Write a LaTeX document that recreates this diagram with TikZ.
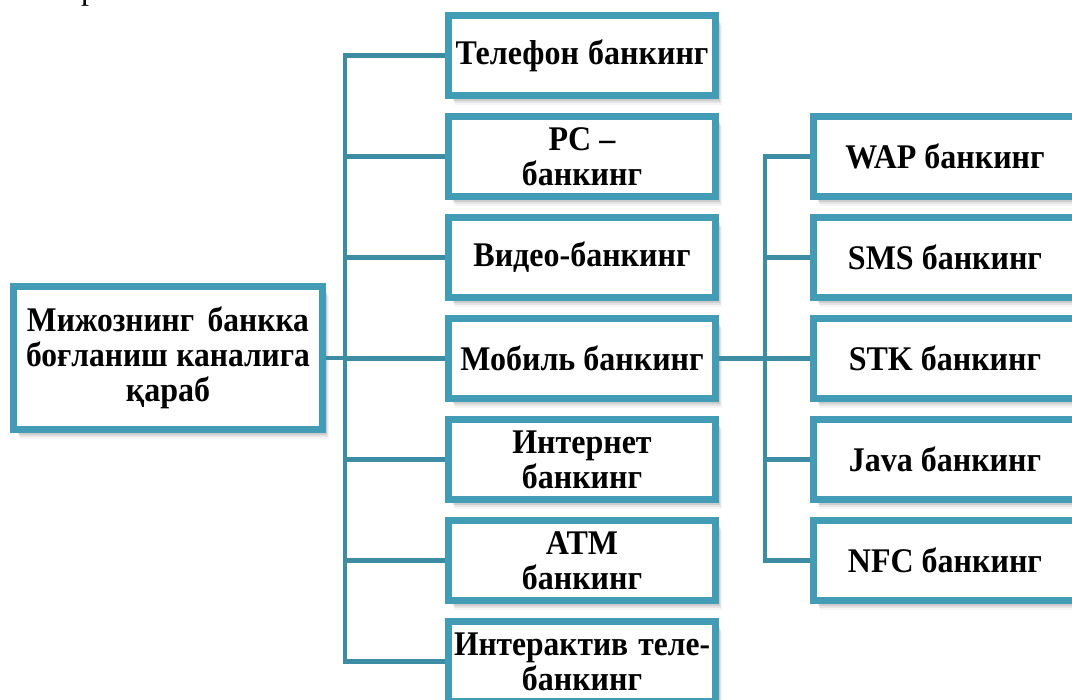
\documentclass[tikz,border=0pt]{standalone}
\usepackage{fontspec}
\setmainfont{Liberation Serif}
\usetikzlibrary{shadows}
\definecolor{boxc}{RGB}{67,156,182}
\definecolor{linec}{RGB}{60,140,163}
\newcommand\vs[1]{\scalebox{1}[1.08]{#1}}
\newcommand\hn[1]{\scalebox{0.985}[1]{#1}}
\tikzset{
  softshadow/.style={
    general shadow={fill=black,opacity=0.10,shadow xshift=4.5pt,shadow yshift=-5.5pt},
    general shadow={fill=black,opacity=0.07,shadow xshift=5.5pt,shadow yshift=-7.5pt},
    general shadow={fill=black,opacity=0.04,shadow xshift=6.5pt,shadow yshift=-9.5pt}},
  box/.style={draw=boxc, line width=7pt, fill=white, inner sep=0pt, align=center,
    font=\bfseries\fontsize{32}{35}\selectfont, softshadow},
  midbox/.style={box, minimum width=267, minimum height=80},
  rbox/.style={box, minimum width=263, minimum height=80},
  conn/.style={draw=linec, line width=4.5pt, line join=miter}
}
\begin{document}
\begin{tikzpicture}[x=1pt,y=-1pt]
\useasboundingbox (0,0) rectangle (1072,700);
% fragment of a text line above the picture
\node[anchor=base west, inner sep=0pt, font=\fontsize{32}{35}\selectfont] (frag) at (81,0) {р};
% boxes
\node[box, minimum width=309, minimum height=143] (root) at (168,358)
  {\vs{\makebox[282pt][s]{\hn{Мижознинг}\hfill\hn{банкка}}}\\\vs{\makebox[284pt][s]{\hn{боғланиш}\hfill\hn{каналига}}}\\\vs{қараб}};
\node[midbox] (m1) at (582,55.5) {\vs{\makebox[253pt][s]{Телефон банкинг}}};
\node[midbox] (m2) at (582,156.5) {\vs{PC –}\\\vs{банкинг}};
\node[midbox] (m3) at (582,257.5) {\vs{Видео-банкинг}};
\node[midbox] (m4) at (582,358.5) {\vs{Мобиль банкинг}};
\node[midbox] (m5) at (582,459.5) {\vs{Интернет}\\\vs{банкинг}};
\node[midbox] (m6) at (582,560.5) {\vs{ATM}\\\vs{банкинг}};
\node[midbox] (m7) at (582,661.5) {\vs{\makebox[256pt][s]{\hn{Интерактив}\hfill\hn{теле-}}}\\\vs{банкинг}};
\node[rbox] (r1) at (945,156.5) {\vs{WAP банкинг}};
\node[rbox] (r2) at (945,257.5) {\vs{SMS банкинг}};
\node[rbox] (r3) at (945,358.5) {\vs{STK банкинг}};
\node[rbox] (r4) at (945,459.5) {\vs{Java банкинг}};
\node[rbox] (r5) at (945,560.5) {\vs{NFC банкинг}};
\coordinate (tl) at (345,358);
\coordinate (tr) at (765,358);
% connectors
\draw[conn] (m1.west) -- (m1.west -| tl) -- (m7.west -| tl) -- (m7.west);
\draw[conn] (root.east) -- (root.east -| tl);
\foreach \n in {m2,m3,m4,m5,m6}{\draw[conn] (\n.west) -- (\n.west -| tl);}
\draw[conn] (r1.west) -- (r1.west -| tr) -- (r5.west -| tr) -- (r5.west);
\draw[conn] (m4.east) -- (m4.east -| tr);
\foreach \n in {r2,r3,r4}{\draw[conn] (\n.west) -- (\n.west -| tr);}
\end{tikzpicture}
\end{document}
